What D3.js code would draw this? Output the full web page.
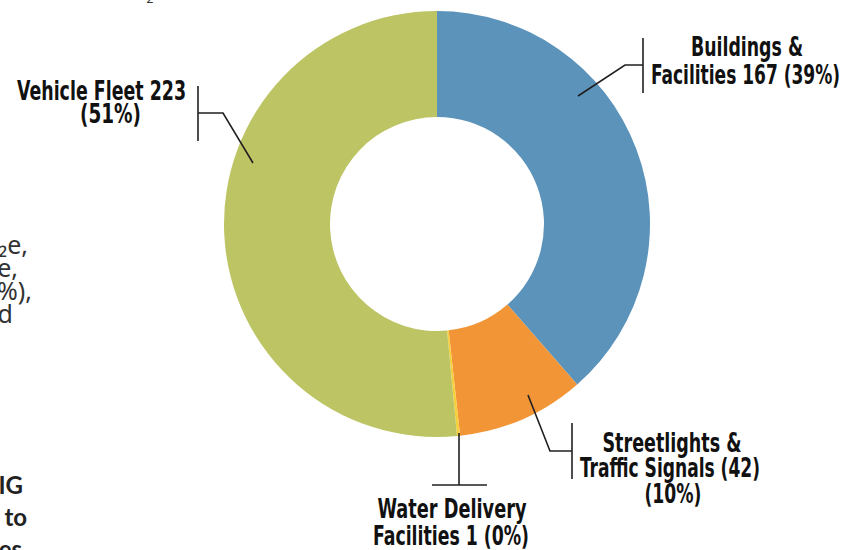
<!DOCTYPE html>
<html><head><meta charset="utf-8">
<script src="https://cdn.jsdelivr.net/npm/d3@7"></script>
<style>
html,body{margin:0;padding:0;background:#fff;}
svg{display:block;}
</style></head>
<body>
<script>
const categories = ["Buildings & Facilities","Streetlights & Traffic Signals","Water Delivery Facilities","Vehicle Fleet"];
const values = [167, 42, 1, 223];
const percents = ["39%","10%","0%","51%"];
const colors = ["#5b93bb","#f29536","#f7cf3c","#bdc463"];

const W=848,H=550, cx=437, cy=224, rOut=213, rIn=107;
const svg=d3.select("body").append("svg").attr("width",W).attr("height",H);

const bodyFont='"Noto Sans","Open Sans",sans-serif';
const boldFont='"Lato","Open Sans",sans-serif';
const lblFont='"Liberation Sans Narrow","DejaVu Sans Condensed","Arial Narrow",sans-serif';

// background page text fragments (cropped document)
const frag=[
 {t:"₂e,",x:28,y:254,b:false},{t:"e,",x:18,y:277,b:false},{t:"%),",x:32,y:300,b:false},{t:"d",x:13,y:323,b:false},
 {t:"IG",x:23,y:494,b:true},{t:"to",x:27,y:526,b:true},{t:"es",x:22,y:558,b:true}
];
svg.selectAll("text.frag").data(frag).join("text").attr("class","frag")
 .attr("x",d=>d.x).attr("y",d=>d.y).attr("text-anchor","end")
 .attr("font-family",d=>d.b?boldFont:bodyFont).attr("font-weight",d=>d.b?"bold":"normal")
 .attr("font-size",d=>d.b?24:25).attr("fill",d=>d.b?"#222":"#333")
 .text(d=>d.t);
svg.append("text").attr("x",150).attr("y",3).attr("font-family",bodyFont).attr("font-size",12).attr("fill","#333").attr("text-anchor","middle").text("2");

const pie=d3.pie().sort(null).value(d=>d).startAngle(0).endAngle(2*Math.PI);
const arc=d3.arc().innerRadius(rIn).outerRadius(rOut);
const g=svg.append("g").attr("transform",`translate(${cx},${cy})`);
g.selectAll("path").data(pie(values)).join("path").attr("d",arc).attr("fill",(d,i)=>colors[i]);

// leader lines
const leaders=[
 [[578,96],[625,65],[643,65]], [[643,38],[643,93]],
 [[528,395],[550,451],[572,451]], [[572,423],[572,479]],
 [[459,433],[459,485]], [[432,485],[487,485]],
 [[253,163],[223,113],[198,113]], [[198,86],[198,141]]
];
svg.selectAll("path.ld").data(leaders).join("path").attr("class","ld")
 .attr("d",d=>d3.line()(d)).attr("fill","none").attr("stroke","#231f20").attr("stroke-width",1.6);

const labels=[
 {t:"Buildings &",x:747,y:56,w:112},
 {t:`Facilities ${values[0]} (${percents[0]})`,x:745.5,y:84,w:189},
 {t:"Streetlights &",x:672,y:452,w:139},
 {t:`Traffic Signals (${values[1]})`,x:670,y:477,w:180},
 {t:`(${percents[1]})`,x:673,y:503,w:57},
 {t:"Water Delivery",x:452,y:518,w:149},
 {t:`Facilities ${values[2]} (${percents[2]})`,x:451,y:545,w:156},
 {t:`Vehicle Fleet ${values[3]}`,x:101.5,y:100,w:169},
 {t:`(${percents[3]})`,x:110.5,y:123,w:61}
];
svg.selectAll("text.lbl").data(labels).join("text").attr("class","lbl")
 .attr("x",d=>d.x).attr("y",d=>d.y).attr("text-anchor","middle")
 .attr("font-family",lblFont).attr("font-weight","bold").attr("font-size",26).attr("fill","#111")
 .attr("textLength",d=>d.w).attr("lengthAdjust","spacingAndGlyphs").text(d=>d.t);
</script>
</body></html>
